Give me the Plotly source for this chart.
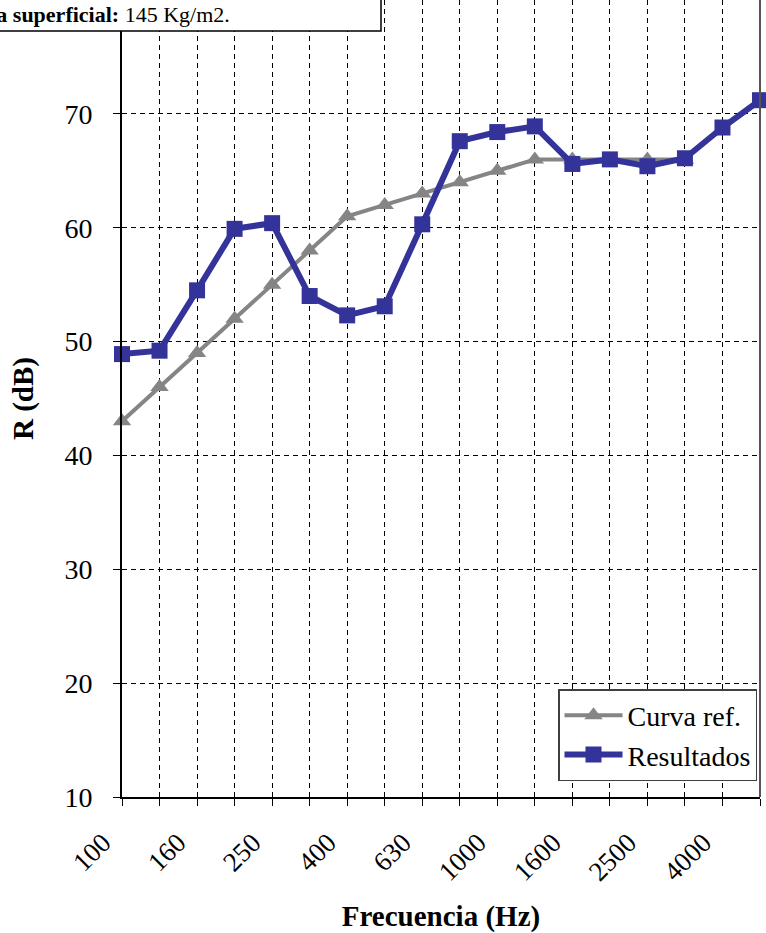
import plotly.graph_objects as go

freqs = ["100", "125", "160", "200", "250", "315", "400", "500", "630", "800",
         "1000", "1250", "1600", "2000", "2500", "3150", "4000", "5000"]
tick_labels = ["100", "160", "250", "400", "630", "1000", "1600", "2500", "4000"]
ref_freqs = freqs[:16]
curva_ref = [43, 46, 49, 52, 55, 58, 61, 62, 63, 64, 65, 66, 66, 66, 66, 66]
resultados = [48.9, 49.2, 54.5, 59.9, 60.4, 54.0, 52.3, 53.1, 60.3, 67.6,
              68.4, 68.9, 65.6, 66.0, 65.4, 66.1, 68.8, 71.2]
y_ticks = [10, 20, 30, 40, 50, 60, 70]

FONT = "Liberation Serif, Times New Roman, serif"

fig = go.Figure()
fig.add_trace(go.Scatter(
    x=ref_freqs, y=curva_ref, name="Curva ref.", mode="lines+markers",
    line=dict(color="#858585", width=4),
    marker=dict(symbol="triangle-up", size=16, color="#858585"),
    cliponaxis=False,
))
fig.add_trace(go.Scatter(
    x=freqs, y=resultados, name="Resultados", mode="lines+markers",
    line=dict(color="#333399", width=6),
    marker=dict(symbol="square", size=16, color="#333399"),
    cliponaxis=False,
))

fig.update_layout(
    width=766, height=933,
    margin=dict(l=122, r=6, t=0, b=136, autoexpand=False),
    paper_bgcolor="white", plot_bgcolor="white",
    font=dict(family=FONT, size=28, color="black"),
    showlegend=True,
    legend=dict(
        x=(558 - 122) / 638, xanchor="left", y=(797 - 781) / 797, yanchor="bottom",
        bgcolor="white", bordercolor="#404040", borderwidth=1.5,
        font=dict(family=FONT, size=28, color="black"),
        tracegroupgap=0, itemwidth=58,
    ),
    xaxis=dict(
        type="category", categoryorder="array", categoryarray=freqs,
        range=[0, 17],
        tickmode="array", tickvals=freqs,
        ticktext=[f if f in tick_labels else "" for f in freqs],
        tickangle=-45, ticks="outside", ticklen=7, tickcolor="black",
        ticklabelshift=-19, ticklabelstandoff=10,
        showline=True, linecolor="black", linewidth=2,
        showgrid=True, gridcolor="black", gridwidth=1, griddash="5px,4px",
        zeroline=False, automargin=False,
        title=dict(text="<b>Frecuencia (Hz)</b>", font=dict(family=FONT, size=29), standoff=20),
        tickfont=dict(family=FONT, size=27),
    ),
    yaxis=dict(
        range=[10, 80], tickmode="array", tickvals=y_ticks,
        ticks="outside", ticklen=7, tickcolor="black",
        showline=True, linecolor="black", linewidth=2,
        showgrid=True, gridcolor="black", gridwidth=1, griddash="5px,4px",
        zeroline=False, automargin=False, ticklabelstandoff=15,
        title=dict(text="<b>R (dB)</b>", font=dict(family=FONT, size=29), standoff=22),
        tickfont=dict(family=FONT, size=28),
    ),
    shapes=[
        dict(type="line", xref="paper", yref="paper", x0=1, x1=1, y0=0, y1=1,
             line=dict(color="#555555", width=2)),
        dict(type="rect", xref="paper", yref="paper",
             x0=-0.3, x1=(381 - 122) / 638, y0=1 - 31 / 797, y1=1.05,
             fillcolor="white", line=dict(color="black", width=1.5), layer="above"),
    ],
    annotations=[
        dict(text="<b>Masa superficial:</b> 145 Kg/m2.", xref="paper", yref="paper",
             x=(232 - 122) / 638, xanchor="right", y=1 - 15 / 797, yanchor="middle",
             showarrow=False, font=dict(family=FONT, size=22, color="black")),
    ],
)

fig.write_html("out.html", config={"displayModeBar": False},
               post_script="document.body.style.margin='0';document.body.style.padding='0';")
